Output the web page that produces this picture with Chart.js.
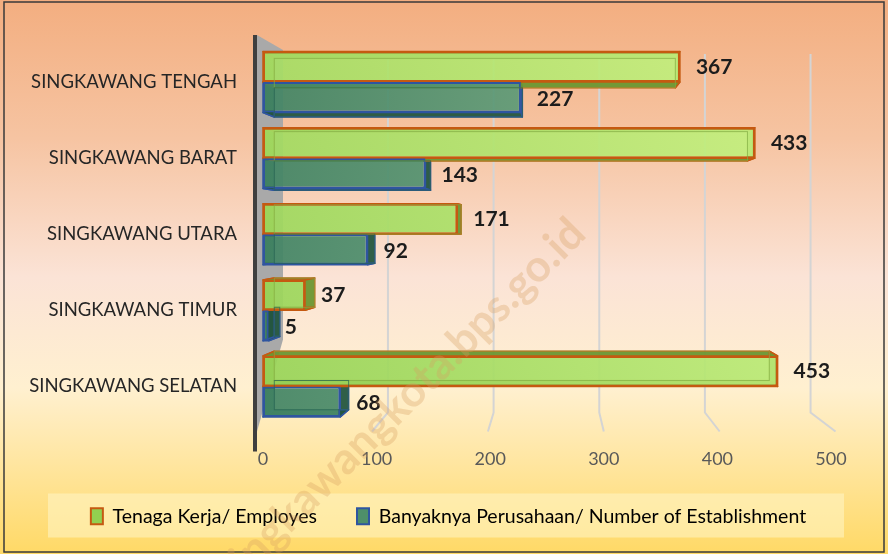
<!DOCTYPE html>
<html>
<head>
<meta charset="utf-8">
<script src="https://cdn.jsdelivr.net/npm/chart.js@4/dist/chart.umd.min.js"></script>
<style>
  html, body { margin: 0; padding: 0; background: #fff; }
  #wrap { width: 888px; height: 554px; position: relative; }
</style>
</head>
<body>
<div id="wrap"><canvas id="chart" width="888" height="554"></canvas></div>
<script>
const kecamatan = ['SINGKAWANG TENGAH', 'SINGKAWANG BARAT', 'SINGKAWANG UTARA', 'SINGKAWANG TIMUR', 'SINGKAWANG SELATAN'];
const tenagaKerja = [367, 433, 171, 37, 453];
const perusahaan = [227, 143, 92, 5, 68];
const seriesNames = ['Tenaga Kerja/ Employes', 'Banyaknya Perusahaan/ Number of Establishment'];
const xTicks = [0, 100, 200, 300, 400, 500];

const FONT = 'Lato, "Open Sans", sans-serif';

// perspective point used for the pseudo 3D box depth
const VP = { x: 560, y: 230, k: 0.038 };
function back(px, py) {
    return [px + (VP.x - px) * VP.k, py + (VP.y - py) * VP.k];
}

function barBox(bar) {
    const p = bar.getProps(['x', 'y', 'base', 'height'], true);
    const l = Math.min(p.base, p.x), r = Math.max(p.base, p.x);
    return { l, r, t: p.y - p.height / 2, b: p.y + p.height / 2, x: p.x, y: p.y };
}

const sideColors = [
    { fill: 'rgba(108,150,50,0.95)', stroke: '#c55a11', edge: 'rgba(130,175,70,0.7)' },
    { fill: 'rgba(36,86,64,0.95)', stroke: '#2f55a0', edge: 'rgba(40,100,78,0.7)' }
];

const decor = {
    id: 'decor',
    afterLayout(chart) {
        // the legend row sits a little right of the canvas centre
        chart.legend.left += 33;
        chart.legend.right += 33;
    },
    beforeDraw(chart) {
        const c = chart.ctx, w = chart.width, h = chart.height;
        const g = c.createLinearGradient(0, 0, 0, h);
        g.addColorStop(0, '#f3ae80');
        g.addColorStop(0.25, '#f6c4a2');
        g.addColorStop(0.5, '#fbe3d6');
        g.addColorStop(0.7, '#fff0d0');
        g.addColorStop(1, '#ffd966');
        c.save();
        c.fillStyle = g;
        c.fillRect(0, 0, w, h);
        c.strokeStyle = '#3a3a3a';
        c.lineWidth = 1.5;
        c.strokeRect(4, 2, w - 8, h - 4);

        // legend panel
        const lg = chart.legend;
        c.fillStyle = 'rgba(255,246,200,0.55)';
        c.fillRect(48, lg.top + 27, 796, 44);
        c.restore();
    },
    beforeDatasetsDraw(chart) {
        const c = chart.ctx, a = chart.chartArea, x = chart.scales.x;
        c.save();
        // grey back wall
        c.fillStyle = '#a9a9a9';
        c.beginPath();
        c.moveTo(a.left - 6, a.top - 9);
        c.lineTo(a.left + 20, a.top + 6);
        c.lineTo(a.left + 20, a.bottom - 85);
        c.lineTo(a.left - 6, a.bottom + 7);
        c.closePath();
        c.fill();
        c.fillStyle = '#3f3f3f';
        c.fillRect(a.left - 10, a.top - 9, 4, a.bottom - a.top + 36);

        // gridlines: back wall position then bend to the floor front
        c.strokeStyle = '#d4d4d4';
        c.lineWidth = 2;
        xTicks.slice(1).forEach(v => {
            const bx = x.getPixelForValue(v * 0.93 + 17);
            const fx = x.getPixelForValue(v * 1.02 - 6);
            c.beginPath();
            c.moveTo(bx, a.top + 10);
            c.lineTo(bx, a.bottom - 12);
            c.lineTo(fx, a.bottom + 7);
            c.stroke();
        });

        // depth faces of every bar, painted before the front faces
        c.lineJoin = 'round';
        [1, 0].forEach(i => {
            const col = sideColors[i];
            chart.getDatasetMeta(i).data.forEach(bar => {
                const b = barBox(bar);
                const f = [[b.l, b.t], [b.r, b.t], [b.r, b.b], [b.l, b.b]];
                const k = f.map(q => back(q[0], q[1]));
                c.fillStyle = col.fill;
                c.strokeStyle = col.stroke;
                c.lineWidth = 1.5;
                for (let e = 0; e < 4; e++) {
                    const n = (e + 1) % 4;
                    c.beginPath();
                    c.moveTo(f[e][0], f[e][1]);
                    c.lineTo(f[n][0], f[n][1]);
                    c.lineTo(k[n][0], k[n][1]);
                    c.lineTo(k[e][0], k[e][1]);
                    c.closePath();
                    c.fill();
                    c.stroke();
                }
            });
        });
        c.restore();
    },
    afterDatasetsDraw(chart) {
        const c = chart.ctx;
        c.save();
        chart.data.datasets.forEach((ds, i) => {
            chart.getDatasetMeta(i).data.forEach((bar, j) => {
                const b = barBox(bar);
                // back edges seen through the translucent front
                const tl = back(b.l, b.t), br = back(b.r, b.b);
                c.strokeStyle = sideColors[i].edge;
                c.lineWidth = 1;
                c.strokeRect(tl[0], tl[1], br[0] - tl[0], br[1] - tl[1]);
                c.font = 'bold 21px ' + FONT;
                c.fillStyle = '#1c1c1c';
                c.textBaseline = 'middle';
                c.fillText(ds.data[j], b.x + 16, b.y + (i === 1 ? 2 : 0));
            });
        });
        c.restore();
    },
    afterDraw(chart) {
        const c = chart.ctx;
        c.save();
        c.translate(588, 236);
        c.rotate(-45 * Math.PI / 180);
        c.font = 'bold 44px ' + FONT;
        c.fillStyle = 'rgba(214,160,96,0.32)';
        c.textAlign = 'right';
        c.textBaseline = 'alphabetic';
        c.fillText('singkawangkota.bps.go.id', 0, 0);
        c.restore();
    }
};

function greenFill(ctx) {
    const a = ctx.chart.chartArea;
    if (!a) return '#a6da68';
    const g = ctx.chart.ctx.createLinearGradient(a.left, a.bottom, a.right, a.top);
    g.addColorStop(0, 'rgba(150,210,86,0.93)');
    g.addColorStop(1, 'rgba(204,245,134,0.93)');
    return g;
}

function blueFill(ctx) {
    const a = ctx.chart.chartArea;
    if (!a) return '#4f8f6e';
    const g = ctx.chart.ctx.createLinearGradient(a.left, 0, a.left + 300, 0);
    g.addColorStop(0, 'rgba(66,132,100,0.93)');
    g.addColorStop(1, 'rgba(98,158,122,0.93)');
    return g;
}

new Chart(document.getElementById('chart'), {
    type: 'bar',
    data: {
        labels: kecamatan,
        datasets: [{
            label: seriesNames[0],
            data: tenagaKerja,
            backgroundColor: greenFill,
            borderColor: '#c55a11',
            borderWidth: 2,
            borderSkipped: false,
            categoryPercentage: 0.8,
            barPercentage: 1
        }, {
            label: seriesNames[1],
            data: perusahaan,
            backgroundColor: blueFill,
            borderColor: '#2f55a0',
            borderWidth: 2,
            borderSkipped: false,
            categoryPercentage: 0.8,
            barPercentage: 1
        }]
    },
    options: {
        indexAxis: 'y',
        responsive: false,
        animation: false,
        layout: { padding: { top: 44, right: 57, left: 0, bottom: 18 } },
        scales: {
            x: {
                min: 0,
                max: 500,
                afterBuildTicks: s => { s.ticks = xTicks.map(v => ({ value: v })); },
                afterFit: s => { s.height = 42; },
                grid: { display: false },
                border: { display: false },
                ticks: { color: '#595959', font: { family: FONT, size: 18 }, padding: 16 }
            },
            y: {
                afterFit: s => { s.width = 263; },
                grid: { display: false },
                border: { display: false },
                ticks: { color: '#262626', font: { family: FONT, size: 18.5 }, padding: 18 }
            }
        },
        plugins: {
            legend: {
                position: 'bottom',
                labels: {
                    padding: 40,
                    boxWidth: 12,
                    boxHeight: 16,
                    color: '#262626',
                    font: { family: FONT, size: 19.5 },
                    generateLabels: () => [
                        { text: seriesNames[0], fillStyle: '#92d050', strokeStyle: '#c55a11', lineWidth: 2, datasetIndex: 0 },
                        { text: seriesNames[1], fillStyle: '#4e8f6a', strokeStyle: '#2f55a0', lineWidth: 2, datasetIndex: 1 }
                    ]
                }
            },
            tooltip: { enabled: false }
        }
    },
    plugins: [decor]
});
</script>
</body>
</html>
